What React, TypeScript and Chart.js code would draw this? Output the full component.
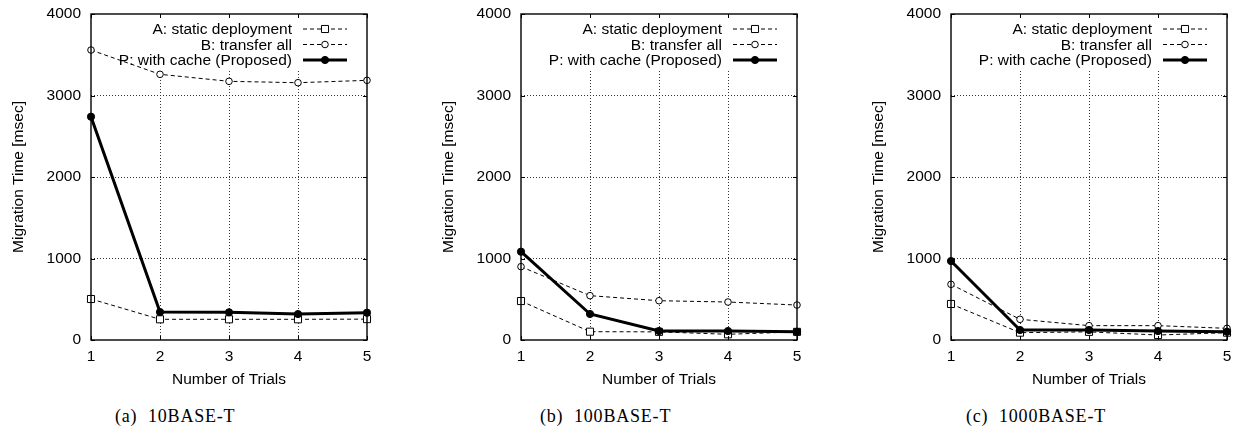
import React, { useEffect, useRef } from "react";
import { Chart, registerables } from "chart.js";

Chart.register(...registerables);

// ---------- data ----------
const TRIALS = ["1", "2", "3", "4", "5"];
const Y_MIN = 0;
const Y_MAX = 4000;
const Y_STEP = 1000;

const SERIES_LABELS = [
  "A: static deployment",
  "B: transfer all",
  "P: with cache (Proposed)",
];

const A_10 = [503, 254, 254, 254, 256];
const B_10 = [3558, 3260, 3174, 3157, 3186];
const P_10 = [2740, 343, 340, 318, 335];

const A_100 = [478, 102, 100, 70, 100];
const B_100 = [900, 544, 482, 466, 429];
const P_100 = [1084, 319, 110, 110, 102];

const A_1000 = [442, 90, 100, 61, 90];
const B_1000 = [683, 254, 176, 176, 143];
const P_1000 = [969, 123, 123, 110, 102];

const CAPTIONS = ["(a)  10BASE-T", "(b)  100BASE-T", "(c)  1000BASE-T"];
const X_TITLE = "Number of Trials";
const Y_TITLE = "Migration Time [msec]";

// ---------- styles ----------
const FONT = "'Liberation Sans', Arial, Helvetica, sans-serif";
const FONT_SIZE = 15.5;
const DASH = [4, 3];

const seriesStyle = [
  { pointStyle: "rect", radius: 5, width: 1, dash: DASH, fill: "#ffffff" },
  { pointStyle: "circle", radius: 3.3, width: 1, dash: DASH, fill: "#ffffff" },
  { pointStyle: "circle", radius: 3.6, width: 3, dash: [], fill: "#000000" },
];

const framePlugin = {
  id: "frame",
  beforeDatasetsDraw(chart: any) {
    const { ctx, chartArea } = chart;
    const L = chartArea.left;
    const T = chartArea.top;
    ctx.save();
    // opaque key box
    ctx.fillStyle = "#ffffff";
    ctx.fillRect(L + 26, T + 1, 236, 55);
    ctx.font = `${FONT_SIZE}px ${FONT}`;
    ctx.textAlign = "right";
    ctx.textBaseline = "middle";
    const rows = [T + 15, T + 30.5, T + 46];
    SERIES_LABELS.forEach((label, i) => {
      const y = rows[i];
      const st = seriesStyle[i];
      ctx.fillStyle = "#000";
      ctx.fillText(label, L + 201, y + 1);
      ctx.strokeStyle = "#000";
      ctx.lineWidth = st.width;
      ctx.setLineDash(st.dash);
      ctx.beginPath();
      ctx.moveTo(L + 212, y);
      ctx.lineTo(L + 256, y);
      ctx.stroke();
      ctx.setLineDash([]);
      ctx.lineWidth = 1;
      const mx = L + 234;
      ctx.beginPath();
      if (st.pointStyle === "rect") {
        const s = st.radius * Math.SQRT1_2;
        ctx.rect(mx - s, y - s, 2 * s, 2 * s);
      } else {
        ctx.arc(mx, y, st.radius, 0, Math.PI * 2);
      }
      ctx.fillStyle = st.fill;
      ctx.fill();
      ctx.stroke();
    });
    ctx.restore();
  },
  afterDraw(chart: any) {
    const { ctx, chartArea, scales } = chart;
    const { left, right, top, bottom } = chartArea;
    ctx.save();
    ctx.strokeStyle = "#000";
    ctx.lineWidth = 1;
    ctx.setLineDash([]);
    const tl = 4;
    ctx.beginPath();
    scales.y.ticks.forEach((t: any) => {
      const y = Math.round(scales.y.getPixelForValue(t.value)) + 0.5;
      ctx.moveTo(left, y);
      ctx.lineTo(left + tl, y);
      ctx.moveTo(right, y);
      ctx.lineTo(right - tl, y);
    });
    scales.x.ticks.forEach((_t: any, i: number) => {
      const x = Math.round(scales.x.getPixelForTick(i)) + 0.5;
      ctx.moveTo(x, top);
      ctx.lineTo(x, top + tl);
      ctx.moveTo(x, bottom);
      ctx.lineTo(x, bottom - tl);
    });
    ctx.stroke();
    ctx.lineWidth = 1.4;
    ctx.strokeRect(left, top, right - left, bottom - top);
    ctx.restore();
  },
};

function makeConfig(a: number[], b: number[], p: number[]): any {
  const all = [a, b, p];
  return {
    type: "line",
    data: {
      labels: TRIALS,
      datasets: all.map((d, i) => ({
        label: SERIES_LABELS[i],
        data: d,
        borderColor: "#000",
        borderWidth: seriesStyle[i].width,
        borderDash: seriesStyle[i].dash,
        pointStyle: seriesStyle[i].pointStyle,
        pointRadius: seriesStyle[i].radius,
        pointBorderWidth: 1,
        pointBorderColor: "#000",
        pointBackgroundColor: seriesStyle[i].fill,
        tension: 0,
        fill: false,
        clip: false,
        order: 2 - i,
      })),
    },
    options: {
      animation: false,
      responsive: false,
      events: [],
      layout: {
        autoPadding: false,
        padding: { left: 0, right: 33, top: 14, bottom: 0 },
      },
      plugins: {
        legend: { display: false },
        tooltip: { enabled: false },
        title: { display: false },
      },
      scales: {
        x: {
          type: "category",
          offset: false,
          afterFit: (s: any) => {
            s.height = 60;
            s.paddingLeft = 0;
            s.paddingRight = 0;
          },
          grid: {
            drawTicks: false,
            color: (c: any) =>
              c.index === 0 || c.index === TRIALS.length - 1
                ? "rgba(0,0,0,0)"
                : "#333",
            lineWidth: 1,
          },
          border: { display: false, dash: [1, 2] },
          ticks: {
            color: "#000",
            padding: 7,
            maxRotation: 0,
            font: { family: FONT, size: FONT_SIZE },
          },
          title: {
            display: true,
            text: X_TITLE,
            color: "#000",
            font: { family: FONT, size: FONT_SIZE },
            padding: { top: 0, bottom: 11 },
          },
        },
        y: {
          type: "linear",
          min: Y_MIN,
          max: Y_MAX,
          afterFit: (s: any) => {
            s.width = 91;
            s.paddingTop = 0;
            s.paddingBottom = 0;
          },
          grid: {
            drawTicks: false,
            color: (c: any) =>
              c.tick && (c.tick.value === Y_MIN || c.tick.value === Y_MAX)
                ? "rgba(0,0,0,0)"
                : "#333",
            lineWidth: 1,
          },
          border: { display: false, dash: [1, 2] },
          ticks: {
            stepSize: Y_STEP,
            color: "#000",
            padding: 10,
            font: { family: FONT, size: FONT_SIZE },
            callback: (v: any) => String(v),
          },
          title: {
            display: true,
            text: Y_TITLE,
            color: "#000",
            font: { family: FONT, size: FONT_SIZE },
            padding: { top: 9, bottom: 0 },
          },
        },
      },
    },
    plugins: [framePlugin],
  };
}

function Panel({ a, b, p, left }: { a: number[]; b: number[]; p: number[]; left: number }) {
  const ref = useRef<HTMLCanvasElement | null>(null);
  useEffect(() => {
    if (!ref.current) return;
    const chart = new Chart(ref.current, makeConfig(a, b, p));
    return () => chart.destroy();
  }, [a, b, p]);
  return (
    <canvas
      ref={ref}
      width={400}
      height={400}
      style={{ position: "absolute", left, top: 0, width: 400, height: 400 }}
    />
  );
}

const PANEL_LEFTS = [0, 430, 860];
const CAPTION_LEFTS = [115, 540, 966];

export default function App() {
  const panels = [
    [A_10, B_10, P_10],
    [A_100, B_100, P_100],
    [A_1000, B_1000, P_1000],
  ];
  return (
    <div
      style={{
        position: "absolute",
        left: 0,
        top: 0,
        width: 1235,
        height: 432,
        overflow: "hidden",
        background: "#fff",
      }}
    >
      {panels.map((d, i) => (
        <Panel key={i} a={d[0]} b={d[1]} p={d[2]} left={PANEL_LEFTS[i]} />
      ))}
      {CAPTIONS.map((c, i) => (
        <div
          key={"c" + i}
          style={{
            position: "absolute",
            left: CAPTION_LEFTS[i],
            top: 405,
            fontFamily: "'Liberation Serif', 'Times New Roman', serif",
            fontSize: 18,
            letterSpacing: "0.8px",
            lineHeight: "22px",
            whiteSpace: "pre",
            color: "#000",
          }}
        >
          {c}
        </div>
      ))}
    </div>
  );
}
